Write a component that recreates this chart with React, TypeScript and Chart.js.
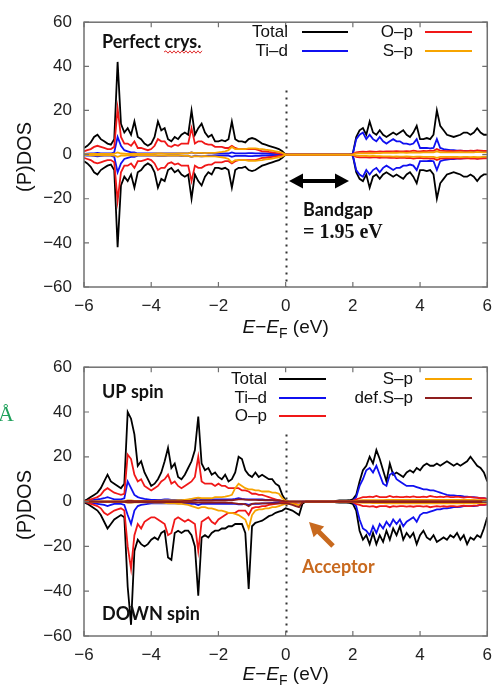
import React, { useEffect, useRef } from 'react';
import { Chart, registerables } from 'chart.js';

Chart.register(...registerables);

// Energy grid E - E_F (eV)
const ENERGY = [
  -6.0, -5.9, -5.8, -5.7, -5.6, -5.5, -5.4, -5.3, -5.2, -5.1,
  -5.0, -4.9, -4.8, -4.7, -4.6, -4.5, -4.4, -4.3, -4.2, -4.1,
  -4.0, -3.9, -3.8, -3.7, -3.6, -3.5, -3.4, -3.3, -3.2, -3.1,
  -3.0, -2.9, -2.8, -2.7, -2.6, -2.5, -2.4, -2.3, -2.2, -2.1,
  -2.0, -1.9, -1.8, -1.7, -1.6, -1.5, -1.4, -1.3, -1.2, -1.1,
  -1.0, -0.9, -0.8, -0.7, -0.6, -0.5, -0.4, -0.3, -0.2, -0.1,
  0.0, 0.1, 0.2, 0.3, 0.4, 0.5, 0.6, 0.7, 0.8, 0.9,
  1.0, 1.1, 1.2, 1.3, 1.4, 1.5, 1.6, 1.7, 1.8, 1.9,
  2.0, 2.1, 2.2, 2.3, 2.4, 2.5, 2.6, 2.7, 2.8, 2.9,
  3.0, 3.1, 3.2, 3.3, 3.4, 3.5, 3.6, 3.7, 3.8, 3.9,
  4.0, 4.1, 4.2, 4.3, 4.4, 4.5, 4.6, 4.7, 4.8, 4.9,
  5.0, 5.1, 5.2, 5.3, 5.4, 5.5, 5.6, 5.7, 5.8, 5.9,
  6.0,
];

const X_TICKS = [-6, -4, -2, 0, 2, 4, 6];
const Y_TICKS = [-60, -40, -20, 0, 20, 40, 60];

// ---------- Perfect crystal (non-magnetic: down spin mirrors up spin) ----------
const TOP_TOTAL = [
  3, 4, 5.5, 8, 9, 7, 6, 5, 4.5, 7,
  42, 14, 10, 12, 9, 15, 8, 7, 5, 4,
  5, 8, 15, 11, 12, 7, 6, 8, 7, 9,
  10, 9, 20, 9, 12, 14, 10, 8, 9, 6,
  6, 6.5, 6, 7, 15, 7, 6, 6, 5.5, 7,
  7.5, 7, 6, 5, 4.5, 4, 3.5, 3, 2.5, 1.5,
  0, 0, 0, 0, 0, 0, 0, 0, 0, 0,
  0, 0, 0, 0, 0, 0, 0, 0, 0, 0,
  0.5, 8, 11, 12, 9, 15, 10, 9, 11, 9,
  8, 9, 10, 9, 10, 11, 9, 8, 10, 13,
  7, 7, 7.5, 7, 9, 20, 13, 11, 9, 8.5,
  8, 8.5, 9, 10, 10, 9, 10, 12, 10, 9,
  9,
];
const TOP_TID = [
  0.3, 0.4, 0.5, 0.6, 0.8, 0.6, 0.5, 0.5, 0.5, 1,
  8, 4, 2, 1.5, 1, 1, 0.5, 0.5, 0.5, 0.5,
  0.5, 0.5, 0.6, 0.6, 0.6, 0.5, 0.5, 0.5, 0.5, 0.6,
  0.6, 0.6, 1, 0.6, 0.7, 0.8, 0.7, 0.6, 0.6, 0.5,
  0.5, 0.5, 0.5, 0.5, 1, 0.6, 0.6, 0.6, 0.6, 0.7,
  0.7, 0.6, 0.6, 0.5, 0.5, 0.4, 0.3, 0.3, 0.2, 0.1,
  0, 0, 0, 0, 0, 0, 0, 0, 0, 0,
  0, 0, 0, 0, 0, 0, 0, 0, 0, 0,
  0.4, 7, 9, 10, 7, 9, 7, 6, 8, 6,
  5, 6, 7, 6, 6, 5, 5, 4.5, 5, 7,
  3, 3, 3, 2.8, 3, 7, 3, 2.5, 2.3, 2,
  2, 1.8, 1.8, 1.7, 1.6, 1.5, 1.5, 1.8, 1.5, 1.2,
  1.2,
];
const TOP_OP = [
  1.5, 2, 2.5, 3.5, 4, 3.5, 3, 2.5, 2.5, 3.5,
  21, 8, 5, 5, 4, 6, 3, 3, 2.5, 2,
  2.5, 4, 7, 6, 6, 4, 3.5, 4.5, 4, 5,
  5, 5, 12, 5, 6, 6, 5, 4.5, 4.5, 3.5,
  3.5, 3.5, 3, 3, 4, 3, 2.5, 2.5, 2.5, 2.5,
  2.5, 2.5, 2, 1.5, 1.5, 1.2, 1, 0.8, 0.6, 0.4,
  0, 0, 0, 0, 0, 0, 0, 0, 0, 0,
  0, 0, 0, 0, 0, 0, 0, 0, 0, 0,
  0.2, 1, 1.2, 1.3, 1.2, 1.4, 1.3, 1.2, 1.5, 1.3,
  1.4, 1.5, 1.4, 1.6, 1.5, 1.4, 1.6, 1.5, 1.8, 1.6,
  1.5, 1.7, 1.6, 1.8, 1.7, 2.5, 1.8, 1.7, 1.6, 1.7,
  1.6, 1.7, 1.8, 1.7, 1.6, 1.8, 1.7, 1.9, 1.8, 1.7,
  1.7,
];
const TOP_SP = [
  0.2, 0.2, 0.3, 0.3, 0.3, 0.3, 0.3, 0.3, 0.3, 0.4,
  1, 0.5, 0.4, 0.3, 0.3, 0.4, 0.3, 0.3, 0.3, 0.3,
  0.3, 0.4, 0.5, 0.5, 0.4, 0.4, 0.4, 0.4, 0.5, 0.5,
  0.6, 0.6, 1, 0.7, 0.8, 0.8, 0.7, 0.8, 0.8, 0.8,
  1, 1.2, 1.5, 2, 3.5, 2.5, 2.5, 2.5, 2.5, 2.8,
  2.8, 2.8, 2.6, 2.5, 2.2, 2, 1.8, 1.5, 1.2, 0.8,
  0, 0, 0, 0, 0, 0, 0, 0, 0, 0,
  0, 0, 0, 0, 0, 0, 0, 0, 0, 0,
  0.1, 0.5, 0.6, 0.6, 0.6, 0.7, 0.6, 0.7, 0.7, 0.8,
  0.8, 0.8, 0.9, 0.8, 0.9, 0.9, 0.8, 0.9, 1, 0.9,
  0.9, 1, 1, 1, 1, 1.5, 1, 1, 1, 1,
  1, 1, 1.1, 1, 1, 1.1, 1, 1.2, 1.1, 1,
  1,
];

// ---------- Defective crystal, spin polarised ----------
const BOT_TOTAL_UP = [
  0.3, 1, 2, 3, 4, 6, 9, 12, 9, 8,
  7, 6, 8, 40, 37, 30, 16, 18, 13, 10,
  7, 8, 10, 13, 18, 24, 15, 17, 11, 10,
  12, 15, 18, 23, 38, 17, 14, 15, 12, 13,
  11, 10, 12, 9, 10, 13, 20, 19, 14, 12,
  11, 13, 11, 12, 11, 10, 10, 8, 7, 3,
  0.5, 0, 0, 0, 0, 0, 0, 0, 0, 0,
  0, 0, 0, 0, 0, 0.3, 0.5, 0.5, 0.5, 0.6,
  1, 3, 9, 14, 16, 20, 17, 23, 19, 14,
  9, 17, 12, 13, 12, 11, 13, 14, 13, 15,
  14, 16, 17, 16, 16, 17, 16, 17, 18, 17,
  16, 17, 16, 17, 18, 20, 18, 16, 15, 13,
  9,
];
const BOT_TOTAL_DN = [
  -0.3, -1, -2, -3, -4, -6, -9, -12, -10, -8,
  -7, -6, -7, -38, -55, -22, -17, -19, -20, -19,
  -17, -16, -17, -14, -13, -25, -26, -14, -13, -14,
  -13, -13, -15, -20, -42, -16, -15, -16, -14, -13,
  -13, -12, -12, -11, -11, -10, -10, -10, -14, -39,
  -11, -9.5, -9, -8.5, -7.5, -6.5, -6, -5, -4.5, -4,
  -3, -3.5, -4, -5, -6, -1, 0, 0, 0, 0,
  0, 0, 0, 0, 0, -0.3, -0.5, -0.5, -0.5, -0.6,
  -1, -4, -13, -17, -15, -19, -14, -19, -15, -18,
  -13, -17, -12, -15, -11, -17, -14, -16, -14, -19,
  -15, -13, -16, -17, -15, -18, -17, -16, -17, -15,
  -16, -14, -17, -15, -19, -16, -17, -15, -16, -12,
  -7,
];
const BOT_TID_UP = [
  0.2, 0.3, 0.5, 0.8, 1, 1.2, 1.5, 2, 1.5, 1,
  1, 1, 1.5, 9, 6, 3, 2, 1.5, 1.2, 1,
  0.8, 0.8, 0.8, 0.8, 1, 1, 0.8, 0.8, 0.8, 0.8,
  0.8, 0.8, 1, 1, 1.5, 1, 1, 1, 1, 1,
  1, 1, 1, 1, 1, 1.2, 1.5, 1.2, 1, 1,
  1, 1, 1, 1, 0.8, 0.8, 0.7, 0.6, 0.4, 0.2,
  0, 0, 0, 0, 0, 0, 0, 0, 0, 0,
  0, 0, 0, 0, 0, 0, 0.1, 0.1, 0.1, 0.1,
  0.3, 2, 7, 10, 14, 15, 13, 16, 12, 8,
  7, 12, 13, 10, 9, 8, 7, 7, 7, 6.5,
  6, 5.5, 5.5, 5, 5, 4.5, 4, 3.5, 3, 2.8,
  2.8, 2.5, 2.5, 2.3, 2.2, 2, 2, 1.8, 1.5, 1.5,
  1.2,
];
const BOT_TID_DN = [
  -0.2, -0.3, -0.5, -0.8, -1, -1.2, -1.5, -2, -1.5, -1,
  -1, -1, -1.5, -6, -10, -4, -2, -1.5, -1.2, -1,
  -0.8, -0.8, -0.8, -0.8, -0.8, -0.8, -0.8, -0.8, -0.8, -0.8,
  -0.8, -0.8, -1, -1, -1.5, -1, -1, -1, -1, -1,
  -1, -1, -1, -1, -1, -1, -1.2, -1.2, -1, -1.5,
  -1, -1, -1, -0.8, -0.8, -0.7, -0.6, -0.5, -0.4, -0.3,
  -0.2, -0.2, -0.3, -0.3, -0.4, 0, 0, 0, 0, 0,
  0, 0, 0, 0, 0, 0, -0.1, -0.1, -0.1, -0.1,
  -0.3, -2, -8, -12, -13, -15, -11, -14, -10, -12,
  -9, -11, -8, -10, -8, -11, -9, -8, -7, -9,
  -6, -5, -5, -4.5, -4, -3.5, -3.5, -3, -3, -2.8,
  -2.5, -2.5, -2.3, -2, -2, -2, -2, -1.8, -1.5, -1.5,
  -1.2,
];
const BOT_OP_UP = [
  0, 0.5, 1, 1.5, 2, 3, 5, 6, 5, 4,
  3.5, 3, 3.5, 21, 19, 12, 9, 10, 7, 6,
  5, 6, 7, 9, 10, 12, 8, 9, 7, 6,
  7, 8, 9, 11, 20, 9, 8, 8, 8, 7,
  8, 7, 7, 6, 6, 6, 6, 5, 5, 4.5,
  3.5, 3.5, 3, 3, 2.5, 2, 1.5, 1, 0.6, 0.3,
  0, 0, 0, 0, 0, 0, 0, 0, 0, 0,
  0, 0, 0, 0, 0, 0, 0.1, 0.1, 0.1, 0.1,
  0.3, 1, 1.5, 2, 2, 2.2, 2, 2.5, 2, 2,
  2, 2.5, 2, 2.2, 2, 2, 2.2, 2, 2.3, 2,
  2, 2.2, 2, 2.5, 2.2, 2, 2.2, 2, 2.3, 2,
  2, 2.2, 2, 1.8, 2, 2, 1.8, 1.8, 1.5, 1.5,
  1.2,
];
const BOT_OP_DN = [
  0, -0.5, -1, -1.5, -2, -3, -5, -6, -5, -4,
  -3.5, -3, -4, -20, -30, -15, -10, -12, -9, -8,
  -7, -7, -8, -9, -10, -15, -14, -8, -7, -8,
  -9, -8, -9, -10, -22, -9, -8, -7, -9, -10,
  -8, -7, -6, -5, -5, -5, -4, -4, -4, -6,
  -3, -2.5, -2.5, -2, -2, -1.5, -1.2, -1, -0.8, -0.5,
  -0.5, -0.6, -0.8, -1, -1.5, -0.3, 0, 0, 0, 0,
  0, 0, 0, 0, 0, 0, -0.1, -0.1, -0.1, -0.1,
  -0.3, -1, -1.5, -2, -2, -2.2, -2, -2.5, -2, -2,
  -2, -2.5, -2, -2.2, -2, -2, -2.2, -2, -2.3, -2,
  -2, -2.2, -2, -2.5, -2.2, -2, -2.2, -2, -2.3, -2,
  -2, -2.2, -2, -1.8, -2, -2, -1.8, -1.8, -1.5, -1.5,
  -1.2,
];
const BOT_SP_UP = [
  0, 0, 0, 0.1, 0.1, 0.1, 0.1, 0.1, 0.1, 0.1,
  0.1, 0.1, 0.2, 0.5, 0.5, 0.3, 0.3, 0.3, 0.3, 0.3,
  0.3, 0.3, 0.4, 0.4, 0.5, 0.5, 0.5, 0.5, 0.6, 0.6,
  0.8, 1, 1.2, 1.5, 1.8, 1.5, 1.5, 1.5, 1.5, 2,
  2, 2, 2.2, 2.5, 3, 6, 8, 7, 6, 5.5,
  5.5, 5, 5, 4.5, 4.5, 4.5, 4, 4, 3.5, 1.5,
  0.3, 0, 0, 0, 0, 0, 0, 0, 0, 0,
  0, 0, 0, 0, 0, 0, 0, 0, 0, 0,
  0, 0.3, 0.5, 0.6, 0.6, 0.6, 0.7, 0.7, 0.7, 0.7,
  0.8, 0.8, 0.8, 0.8, 0.8, 0.8, 0.8, 0.8, 0.8, 0.8,
  0.8, 0.8, 0.8, 0.8, 0.8, 0.8, 0.8, 0.8, 0.8, 0.8,
  0.8, 0.8, 0.8, 0.8, 0.8, 0.8, 0.8, 0.7, 0.7, 0.6,
  0.5,
];
const BOT_SP_DN = [
  0, 0, 0, -0.1, -0.1, -0.1, -0.1, -0.1, -0.1, -0.1,
  -0.1, -0.1, -0.2, -0.5, -0.5, -0.3, -0.3, -0.3, -0.3, -0.3,
  -0.3, -0.4, -0.5, -0.5, -0.6, -0.8, -0.8, -0.8, -1, -1,
  -1.2, -1.5, -2, -2.5, -3, -2.5, -2.5, -3, -3, -3.5,
  -4, -4, -4.5, -5, -5, -5.5, -6, -7, -8, -12,
  -6, -4, -3.5, -3.5, -3, -3, -2.5, -2.5, -2, -1.5,
  -1, -1, -1, -1.2, -1.5, -0.3, 0, 0, 0, 0,
  0, 0, 0, 0, 0, 0, 0, 0, 0, 0,
  0, -0.3, -0.5, -0.6, -0.6, -0.6, -0.7, -0.7, -0.7, -0.7,
  -0.8, -0.8, -0.8, -0.8, -0.8, -0.8, -0.8, -0.8, -0.8, -0.8,
  -0.8, -0.8, -0.8, -0.8, -0.8, -0.8, -0.8, -0.8, -0.8, -0.8,
  -0.8, -0.8, -0.8, -0.8, -0.8, -0.8, -0.8, -0.7, -0.7, -0.6,
  -0.5,
];
const BOT_DEF_UP = [
  0, 0, 0, 0, 0, 0.1, 0.1, 0.1, 0.1, 0.1,
  0.1, 0.1, 0.1, 0.3, 0.3, 0.2, 0.2, 0.2, 0.2, 0.2,
  0.2, 0.2, 0.2, 0.2, 0.2, 0.2, 0.2, 0.2, 0.2, 0.2,
  0.3, 0.3, 0.3, 0.4, 0.5, 0.4, 0.4, 0.4, 0.4, 0.5,
  0.5, 0.5, 0.5, 0.6, 0.6, 0.8, 1, 1, 0.9, 0.8,
  0.8, 0.8, 0.7, 0.7, 0.6, 0.6, 0.6, 0.5, 0.5, 0.3,
  0.1, 0, 0, 0, 0, 0, 0, 0, 0, 0,
  0, 0, 0, 0, 0, 0, 0, 0, 0, 0,
  0, 0.1, 0.2, 0.2, 0.2, 0.2, 0.2, 0.2, 0.2, 0.2,
  0.2, 0.2, 0.2, 0.2, 0.2, 0.2, 0.2, 0.2, 0.2, 0.2,
  0.2, 0.2, 0.2, 0.2, 0.2, 0.2, 0.2, 0.2, 0.2, 0.2,
  0.2, 0.2, 0.2, 0.2, 0.2, 0.2, 0.2, 0.2, 0.2, 0.2,
  0.2,
];
const BOT_DEF_DN = [
  0, 0, 0, 0, 0, -0.1, -0.1, -0.1, -0.1, -0.1,
  -0.1, -0.1, -0.1, -0.3, -0.3, -0.2, -0.2, -0.2, -0.2, -0.2,
  -0.2, -0.2, -0.2, -0.2, -0.2, -0.2, -0.2, -0.2, -0.2, -0.2,
  -0.3, -0.3, -0.3, -0.4, -0.5, -0.4, -0.4, -0.4, -0.4, -0.5,
  -0.5, -0.5, -0.5, -0.6, -0.6, -0.8, -1, -1, -1.2, -2,
  -1, -0.8, -0.8, -0.8, -0.8, -0.8, -0.8, -0.8, -0.8, -0.8,
  -0.8, -1, -1.5, -2, -2.5, -0.3, 0, 0, 0, 0,
  0, 0, 0, 0, 0, 0, 0, 0, 0, 0,
  0, -0.1, -0.2, -0.2, -0.2, -0.2, -0.2, -0.2, -0.2, -0.2,
  -0.2, -0.2, -0.2, -0.2, -0.2, -0.2, -0.2, -0.2, -0.2, -0.2,
  -0.2, -0.2, -0.2, -0.2, -0.2, -0.2, -0.2, -0.2, -0.2, -0.2,
  -0.2, -0.2, -0.2, -0.2, -0.2, -0.2, -0.2, -0.2, -0.2, -0.2,
  -0.2,
];

const C_TOTAL = '#000000';
const C_TID = '#1010f0';
const C_OP = '#f01818';
const C_SP = '#f7a400';
const C_DEF = '#8e1e1e';

type Series = { label: string; color: string; up: number[]; down: number[]; order: number };

const TOP_SERIES: Series[] = [
  { label: 'Total', color: C_TOTAL, up: TOP_TOTAL, down: TOP_TOTAL.map((v) => -v), order: 5 },
  { label: 'Ti\u2013d', color: C_TID, up: TOP_TID, down: TOP_TID.map((v) => -v), order: 4 },
  { label: 'O\u2013p', color: C_OP, up: TOP_OP, down: TOP_OP.map((v) => -v), order: 3 },
  { label: 'S\u2013p', color: C_SP, up: TOP_SP, down: TOP_SP.map((v) => -v), order: 2 },
];
const BOT_SERIES: Series[] = [
  { label: 'Total', color: C_TOTAL, up: BOT_TOTAL_UP, down: BOT_TOTAL_DN, order: 6 },
  { label: 'Ti\u2013d', color: C_TID, up: BOT_TID_UP, down: BOT_TID_DN, order: 5 },
  { label: 'O\u2013p', color: C_OP, up: BOT_OP_UP, down: BOT_OP_DN, order: 4 },
  { label: 'S\u2013p', color: C_SP, up: BOT_SP_UP, down: BOT_SP_DN, order: 3 },
  { label: 'def.S\u2013p', color: C_DEF, up: BOT_DEF_UP, down: BOT_DEF_DN, order: 2 },
];

type LegendItem = { label: string; color: string; textRight: number; x0: number; x1: number; y: number };
type TextItem = { text: string; x: number; y: number; font: string; color: string };
type Arrow = { x0: number; y0: number; x1: number; y1: number; color: string; width: number; double: boolean };
type Decor = {
  legend: LegendItem[];
  texts: TextItem[];
  arrows: Arrow[];
  wavy?: { x0: number; x1: number; y: number };
  dottedTop: number;
  xTitleBaseline: number;
  yTitleCenter: number;
};

const LEG_FONT = '17px "Liberation Sans", Arial, sans-serif';
const BOLD_FONT = 'bold 18px Lato, "Open Sans", sans-serif';

const TOP_DECOR: Decor = {
  legend: [
    { label: 'Total', color: C_TOTAL, textRight: 288, x0: 302, x1: 348, y: 32 },
    { label: 'Ti\u2013d', color: C_TID, textRight: 288, x0: 302, x1: 348, y: 51 },
    { label: 'O\u2013p', color: C_OP, textRight: 413, x0: 425, x1: 472, y: 32 },
    { label: 'S\u2013p', color: C_SP, textRight: 413, x0: 425, x1: 472, y: 51 },
  ],
  texts: [
    { text: 'Perfect crys.', x: 102, y: 42, font: BOLD_FONT, color: '#111' },
    { text: 'Bandgap', x: 303, y: 210, font: BOLD_FONT, color: '#111' },
    { text: '= 1.95 eV', x: 303, y: 233, font: 'bold 20px "Liberation Serif", serif', color: '#111' },
  ],
  arrows: [{ x0: 289, y0: 181, x1: 349, y1: 181, color: '#000', width: 4, double: true }],
  wavy: { x0: 164, x1: 203, y: 52 },
  dottedTop: 29,
  xTitleBaseline: 333,
  yTitleCenter: 157,
};

const BOT_DECOR: Decor = {
  legend: [
    { label: 'Total', color: C_TOTAL, textRight: 267, x0: 279, x1: 326, y: 34 },
    { label: 'Ti\u2013d', color: C_TID, textRight: 267, x0: 279, x1: 326, y: 53 },
    { label: 'O\u2013p', color: C_OP, textRight: 267, x0: 279, x1: 326, y: 71 },
    { label: 'S\u2013p', color: C_SP, textRight: 413, x0: 425, x1: 472, y: 34 },
    { label: 'def.S\u2013p', color: C_DEF, textRight: 413, x0: 425, x1: 472, y: 53 },
  ],
  texts: [
    { text: 'UP spin', x: 102, y: 47, font: BOLD_FONT, color: '#111' },
    { text: 'DOWN spin', x: 102, y: 269, font: BOLD_FONT, color: '#111' },
    { text: 'Acceptor', x: 302, y: 222, font: BOLD_FONT, color: '#c8691e' },
  ],
  arrows: [{ x0: 333, y0: 201, x1: 309, y1: 177, color: '#c8691e', width: 5, double: false }],
  dottedTop: 30,
  xTitleBaseline: 335,
  yTitleCenter: 160,
};

function fmt(v: number) {
  return v < 0 ? '\u2212' + Math.abs(v) : String(v);
}

function drawHead(ctx: CanvasRenderingContext2D, tx: number, ty: number, fx: number, fy: number, len: number, half: number) {
  const a = Math.atan2(ty - fy, tx - fx);
  const bx = tx - len * Math.cos(a);
  const by = ty - len * Math.sin(a);
  ctx.beginPath();
  ctx.moveTo(tx, ty);
  ctx.lineTo(bx + half * Math.sin(a), by - half * Math.cos(a));
  ctx.lineTo(bx - half * Math.sin(a), by + half * Math.cos(a));
  ctx.closePath();
  ctx.fill();
}

function makeDecorPlugin(d: Decor) {
  return {
    id: 'dosDecor',
    beforeDatasetsDraw(chart: any) {
      const { ctx, chartArea: a, scales } = chart;
      ctx.save();
      ctx.strokeStyle = '#333';
      ctx.lineWidth = 2;
      ctx.setLineDash([2, 5]);
      const px = Math.round(scales.x.getPixelForValue(0)) + 0.5;
      ctx.beginPath();
      ctx.moveTo(px, scales.y.getPixelForValue(d.dottedTop));
      ctx.lineTo(px, a.bottom);
      ctx.stroke();
      ctx.restore();
    },
    afterDraw(chart: any) {
      const { ctx, chartArea: a, scales } = chart;
      ctx.save();
      // frame
      ctx.strokeStyle = '#707070';
      ctx.lineWidth = 1.5;
      ctx.strokeRect(a.left, a.top, a.right - a.left, a.bottom - a.top);
      // inward ticks on all four sides
      ctx.lineWidth = 1.2;
      const tl = 5;
      ctx.beginPath();
      scales.x.ticks.forEach((t: any) => {
        const p = scales.x.getPixelForValue(t.value);
        ctx.moveTo(p, a.bottom); ctx.lineTo(p, a.bottom - tl);
        ctx.moveTo(p, a.top); ctx.lineTo(p, a.top + tl);
      });
      scales.y.ticks.forEach((t: any) => {
        const p = scales.y.getPixelForValue(t.value);
        ctx.moveTo(a.left, p); ctx.lineTo(a.left + tl, p);
        ctx.moveTo(a.right, p); ctx.lineTo(a.right - tl, p);
      });
      ctx.stroke();

      // legend
      ctx.textBaseline = 'middle';
      ctx.textAlign = 'right';
      ctx.font = LEG_FONT;
      d.legend.forEach((l) => {
        ctx.fillStyle = '#111';
        ctx.fillText(l.label, l.textRight, l.y);
        ctx.strokeStyle = l.color;
        ctx.lineWidth = 1.9;
        ctx.beginPath();
        ctx.moveTo(l.x0, l.y);
        ctx.lineTo(l.x1, l.y);
        ctx.stroke();
      });

      // annotations
      ctx.textAlign = 'left';
      d.texts.forEach((t) => {
        ctx.font = t.font;
        ctx.fillStyle = t.color;
        ctx.fillText(t.text, t.x, t.y);
      });
      if (d.wavy) {
        ctx.strokeStyle = '#e03030';
        ctx.lineWidth = 1;
        ctx.beginPath();
        let up = true;
        ctx.moveTo(d.wavy.x0, d.wavy.y);
        for (let x = d.wavy.x0 + 2; x <= d.wavy.x1; x += 2) {
          ctx.lineTo(x, d.wavy.y + (up ? -1.2 : 1.2));
          up = !up;
        }
        ctx.stroke();
      }
      d.arrows.forEach((ar) => {
        ctx.strokeStyle = ar.color;
        ctx.fillStyle = ar.color;
        ctx.lineWidth = ar.width;
        const len = 14, half = 7.5;
        const ang = Math.atan2(ar.y1 - ar.y0, ar.x1 - ar.x0);
        const sx = ar.double ? ar.x0 + (len - 2) * Math.cos(ang) : ar.x0;
        const sy = ar.double ? ar.y0 + (len - 2) * Math.sin(ang) : ar.y0;
        const ex = ar.x1 - (len - 2) * Math.cos(ang);
        const ey = ar.y1 - (len - 2) * Math.sin(ang);
        ctx.beginPath();
        ctx.moveTo(sx, sy);
        ctx.lineTo(ex, ey);
        ctx.stroke();
        drawHead(ctx, ar.x1, ar.y1, ar.x0, ar.y0, len, half);
        if (ar.double) drawHead(ctx, ar.x0, ar.y0, ar.x1, ar.y1, len, half);
      });

      // axis titles
      ctx.fillStyle = '#111';
      ctx.textBaseline = 'alphabetic';
      const base = '"Liberation Sans", Arial, sans-serif';
      const parts: { s: string; f: string; dy: number }[] = [
        { s: 'E', f: 'italic 19px ' + base, dy: 0 },
        { s: '\u2212', f: '19px ' + base, dy: 0 },
        { s: 'E', f: 'italic 19px ' + base, dy: 0 },
        { s: 'F', f: '14px ' + base, dy: 5 },
        { s: ' (eV)', f: '19px ' + base, dy: 0 },
      ];
      let total = 0;
      parts.forEach((p) => { ctx.font = p.f; total += ctx.measureText(p.s).width; });
      let cx = (a.left + a.right) / 2 - total / 2;
      parts.forEach((p) => {
        ctx.font = p.f;
        ctx.fillText(p.s, cx, d.xTitleBaseline + p.dy);
        cx += ctx.measureText(p.s).width;
      });
      ctx.translate(25, d.yTitleCenter);
      ctx.rotate(-Math.PI / 2);
      ctx.textAlign = 'center';
      ctx.textBaseline = 'middle';
      ctx.font = '20px ' + base;
      ctx.fillText('(P)DOS', 0, 0);
      ctx.restore();
    },
  };
}

function buildDatasets(series: Series[]) {
  const ds: any[] = [];
  series.forEach((s) => {
    [s.up, s.down].forEach((vals, k) => {
      ds.push({
        label: s.label + (k ? ' (down)' : ' (up)'),
        data: ENERGY.map((e, i) => ({ x: e, y: vals[i] })),
        borderColor: s.color,
        backgroundColor: s.color,
        borderWidth: 1.8,
        pointRadius: 0,
        fill: false,
        tension: 0,
        order: s.order,
      });
    });
  });
  return ds;
}

function DosChart({ series, decor, padTop, xHeight }: { series: Series[]; decor: Decor; padTop: number; xHeight: number }) {
  const ref = useRef<HTMLCanvasElement>(null);
  useEffect(() => {
    if (!ref.current) return;
    const tickFont = { family: '"Liberation Sans", Arial, sans-serif', size: 17 };
    const chart = new Chart(ref.current, {
      type: 'line',
      data: { datasets: buildDatasets(series) },
      options: {
        responsive: false,
        animation: false,
        devicePixelRatio: 1,
        layout: { padding: { top: padTop, right: 8, left: 0, bottom: 0 } },
        plugins: { legend: { display: false }, tooltip: { enabled: false } },
        scales: {
          x: {
            type: 'linear',
            min: -6,
            max: 6,
            afterBuildTicks: (scale: any) => { scale.ticks = X_TICKS.map((v) => ({ value: v })); },
            afterFit: (scale: any) => { scale.height = xHeight; },
            grid: { display: false, drawTicks: false },
            border: { display: false },
            ticks: { font: tickFont, color: '#222', padding: 9, maxRotation: 0, autoSkip: false, callback: (v: any) => fmt(Number(v)) },
          },
          y: {
            type: 'linear',
            min: -60,
            max: 60,
            afterBuildTicks: (scale: any) => { scale.ticks = Y_TICKS.map((v) => ({ value: v })); },
            afterFit: (scale: any) => { scale.width = 84; },
            grid: { display: false, drawTicks: false },
            border: { display: false },
            ticks: { font: tickFont, color: '#222', padding: 12, autoSkip: false, callback: (v: any) => fmt(Number(v)) },
          },
        },
      },
      plugins: [makeDecorPlugin(decor)],
    } as any);
    return () => chart.destroy();
  }, []);
  return <canvas ref={ref} width={501} height={345} style={{ display: 'block' }} />;
}

export default function App() {
  return (
    <div style={{ position: 'absolute', left: 0, top: 0, width: 501, height: 690, background: '#fff', overflow: 'hidden' }}>
      <div style={{ position: 'absolute', left: 0, top: 0 }}>
        <DosChart series={TOP_SERIES} decor={TOP_DECOR} padTop={18} xHeight={58} />
      </div>
      <div style={{ position: 'absolute', left: 0, top: 345 }}>
        <DosChart series={BOT_SERIES} decor={BOT_DECOR} padTop={22} xHeight={54} />
      </div>
      <span style={{ position: 'absolute', left: -2, top: 401, color: '#1ea05a', font: '22px "Liberation Serif", serif' }}>Å</span>
    </div>
  );
}
